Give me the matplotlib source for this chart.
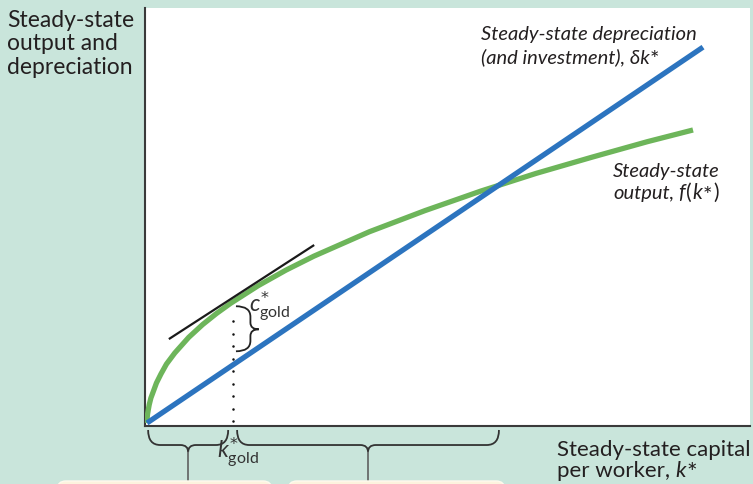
import numpy as np
import matplotlib
matplotlib.use("Agg")
import matplotlib.pyplot as plt
from matplotlib.path import Path
from matplotlib.patches import PathPatch, FancyBboxPatch
from matplotlib.transforms import IdentityTransform

plt.rcParams['font.family'] = ['Lato', 'DejaVu Sans']
plt.rcParams['mathtext.fontset'] = 'custom'
plt.rcParams['mathtext.rm'] = 'Lato'
plt.rcParams['mathtext.it'] = 'Lato:italic'
plt.rcParams['mathtext.sf'] = 'DejaVu Sans'

# Steady-state output f(k*) sampled along capital per worker
capital = [0, 0.003, 0.01, 0.02, 0.04, 0.07, 0.1, 0.17, 0.25, 0.35, 0.5, 0.75,
           1.0, 1.25, 1.5, 2.0, 2.5, 3.0, 3.5, 4.0, 5.0, 6.0, 7.0, 8.0, 9.0, 9.82]
output = [0, 0.09, 0.16, 0.22, 0.33, 0.45, 0.53, 0.72, 0.88, 1.06, 1.26, 1.54,
          1.77, 1.97, 2.15, 2.47, 2.75, 3.00, 3.22, 3.44, 3.82, 4.17, 4.49, 4.78,
          5.06, 5.27]

# Steady-state depreciation (and investment) line, delta * k*
dep_capital = [0, 10.0]
dep_value = [0, 6.76]

# Tangent to f(k*) at the golden-rule level
tangent_capital = [0.41, 2.99]
tangent_value = [1.52, 3.19]

k_gold = 1.55        # golden-rule capital stock
k_cross = 6.3        # where f(k*) meets delta k*
c_gold_top = 2.10    # output at k_gold
c_gold_bottom = 1.29 # just above depreciation at k_gold

BG = '#C9E5DB'
GREEN = '#6DB55A'
BLUE = '#2C74BF'
CREAM = '#FDF3DE'
INK = '#231F20'
W, H = 753, 484

fig = plt.figure(figsize=(W / 100, H / 100), dpi=100, facecolor=BG)
ax = fig.add_axes([145 / W, 1 - 426 / H, 605 / W, (426 - 8.5) / H])
ax.set_facecolor('white')
ax.set_xlim(-0.036, 10.845)
ax.set_ylim(-0.054, 7.455)
ax.set_xticks([])
ax.set_yticks([])
for side in ('top', 'right'):
    ax.spines[side].set_visible(False)
for side in ('left', 'bottom'):
    ax.spines[side].set_color('#3a3a3a')
    ax.spines[side].set_linewidth(1.5)

ax.plot(capital, output, color=GREEN, lw=3.8, solid_capstyle='butt',
        solid_joinstyle='round', zorder=3)
ax.plot(dep_capital, dep_value, color=BLUE, lw=3.8, solid_capstyle='butt', zorder=4)
ax.plot(tangent_capital, tangent_value, color='#1a1a1a', lw=1.6, zorder=5)

# dotted guide at the golden-rule capital stock
dots_y = np.arange(0.03, c_gold_top - 0.05, 0.225)
ax.plot(np.full_like(dots_y, k_gold), dots_y, ls='none', marker='o', ms=1.8,
        mew=0, color='#111111', zorder=5, clip_on=False)


def brace_path(a0, a1, atip, base, bar, tip, r, r2, horizontal=True):
    pts = [(a0, base), (a0, bar), (a0 + r, bar),
           (atip - r2, bar), (atip, bar), (atip, tip),
           (atip, bar), (atip + r2, bar),
           (a1 - r, bar), (a1, bar), (a1, base)]
    codes = [Path.MOVETO, Path.CURVE3, Path.CURVE3,
             Path.LINETO, Path.CURVE3, Path.CURVE3,
             Path.CURVE3, Path.CURVE3,
             Path.LINETO, Path.CURVE3, Path.CURVE3]
    if not horizontal:
        pts = [(b, a) for a, b in pts]
    return Path(pts, codes)


# braces under the capital axis
ytop, ybar, ytip = -0.126, -0.396, -0.522
for a0, a1 in [(0.02, k_gold - 0.09), (k_gold + 0.07, k_cross + 0.03)]:
    mid = (a0 + a1) / 2
    ax.add_patch(PathPatch(brace_path(a0, a1, mid, ytop, ybar, ytip, 0.22, 0.14),
                           fill=False, lw=1.3, edgecolor='#333333', clip_on=False))
    ax.plot([mid, mid], [ytip, -1.2], color='#555555', lw=1.1, clip_on=False)

# brace marking golden-rule consumption
cmid = (c_gold_top + c_gold_bottom) / 2 - 0.01
ax.add_patch(PathPatch(brace_path(c_gold_bottom, c_gold_top, cmid,
                                  k_gold + 0.05, k_gold + 0.31, k_gold + 0.46,
                                  0.19, 0.12, horizontal=False),
                       fill=False, lw=1.3, edgecolor='#222222', clip_on=False, zorder=5))


def fx(px):
    return px / W


def fy(py):
    return 1 - py / H


renderer = fig.canvas.get_renderer()


def run(x, base, pieces, color=INK):
    """Draw text pieces one after another along a baseline (pixel coords).
    Each piece is (text, fontsize, italic, gap_before, rise)."""
    for s, size, italic, gap, rise in pieces:
        x += gap
        t = fig.text(fx(x), fy(base - rise), s, fontsize=size,
                     style='italic' if italic else 'normal', color=color,
                     ha='left', va='baseline')
        x += t.get_window_extent(renderer).width
    return x


# golden-rule labels
fig.text(fx(249), fy(313), r'$c^{\mathsf{*}}_{\mathrm{gold}}$', fontsize=16.5,
         color='#333333', ha='left', va='baseline')
fig.text(fx(217), fy(459), r'$k^{\mathsf{*}}_{\mathrm{gold}}$', fontsize=16.5,
         color='#333333', ha='left', va='baseline')

for b, s in zip([27, 50.5, 74], ['Steady-state', 'output and', 'depreciation']):
    run(7, b, [(s, 16.5, False, 0, 0)])

run(557, 456, [('Steady-state capital', 16, False, 0, 0)])
run(557, 477, [('per worker,', 16, False, 0, 0), ('k', 16, True, 5, 0),
               ('*', 18, False, 0.5, -4)])

run(481, 40, [('Steady-state depreciation', 14.5, True, 0, 0)])
run(481, 63, [('(and investment), δk', 14.5, True, 0, 0),
              ('*', 16, False, 0.3, -3)])
run(613, 176.5, [('Steady-state', 14.5, True, 0, 0)])
run(613, 199, [('output,', 14.5, True, 0, 0), ('f', 15, True, 4, 0),
               ('(', 15, False, 1, 0), ('k', 15, True, 0.5, 0),
               ('*', 16, False, 0.5, -3), (')', 15, False, 1, 0)])

# cream panels at the foot of the figure
for x0, x1 in [(57, 272), (288, 505)]:
    fig.add_artist(FancyBboxPatch((x0, H - 481 - 40), x1 - x0, 40,
                                  boxstyle='round,pad=0,rounding_size=9',
                                  transform=IdentityTransform(),
                                  facecolor=CREAM, edgecolor='#FFF9EE', lw=1.0,
                                  zorder=10))

fig.savefig('out.png', dpi=100, facecolor=BG)
